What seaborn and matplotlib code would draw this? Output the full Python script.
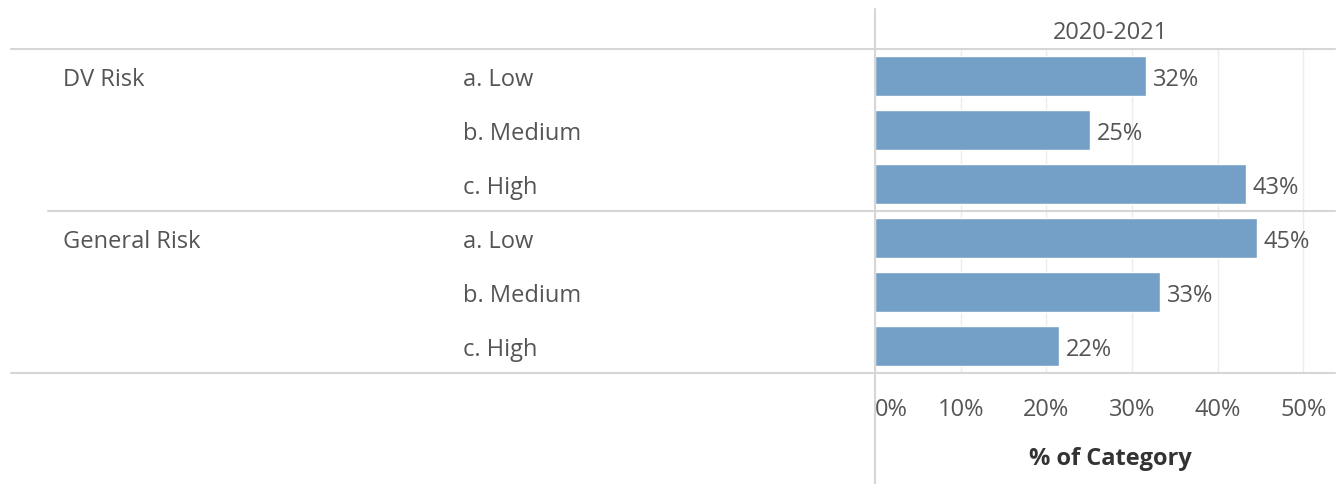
import matplotlib
matplotlib.use('Agg')
import matplotlib.pyplot as plt
import matplotlib.transforms as mtransforms
from matplotlib.lines import Line2D
import seaborn as sns
import pandas as pd

# values
groups = ['DV Risk', 'General Risk']
levels = ['a. Low', 'b. Medium', 'c. High']
dv_pct = [31.6, 25.1, 43.3]
general_pct = [44.6, 33.3, 21.5]
x_ticks = [0, 10, 20, 30, 40, 50]
x_tick_labels = ['0%', '10%', '20%', '30%', '40%', '50%']
period = '2020-2021'
x_title = '% of Category'

df = pd.DataFrame({
    'group': [g for g in groups for _ in levels],
    'level': levels * 2,
    'pct': dv_pct + general_pct,
})
df['row'] = df['group'] + ' | ' + df['level']

sns.set_theme(style='white')
plt.rcParams['font.family'] = ['Open Sans', 'DejaVu Sans']
text_color = '#555555'
line_color = '#d6d6d6'
bar_color = '#74a0c7'
fs = 17

W, H = 1342, 485
fig = plt.figure(figsize=(W / 100, H / 100), dpi=100)
ax = fig.add_axes([875 / W, 1 - 374 / H, (1335 - 875) / W, (374 - 50) / H])

sns.barplot(data=df, y='row', x='pct', orient='h', color=bar_color,
            saturation=1, width=0.73, ax=ax)
ax.set_xlim(0, 53.7)
ax.set_ylim(5.5, -0.5)
sns.despine(ax=ax, left=True, bottom=True)
ax.set_ylabel('')
ax.set_xlabel('')
ax.set_yticks([])
ax.set_xticks(x_ticks)
ax.set_xticklabels(x_tick_labels, fontsize=fs, color=text_color)
ax.get_xticklabels()[0].set_horizontalalignment('left')
ax.tick_params(axis='x', length=0, pad=17)
ax.grid(axis='x', color='#ececec', lw=1)
ax.set_axisbelow(True)

# row text sits a few pixels below the bar centre, as in the original
dy = 0.06

# value labels
for i, v in enumerate(df['pct']):
    ax.text(v + 0.8, i + dy, f'{round(v)}%', va='center', ha='left',
            fontsize=fs, color=text_color)

# row header labels
trans = mtransforms.blended_transform_factory(fig.transFigure, ax.transData)
for i, row in df.iterrows():
    if row['level'] == levels[0]:
        fig.text(63 / W, i + dy, row['group'], transform=trans, va='center',
                 ha='left', fontsize=fs, color=text_color)
    fig.text(463 / W, i + dy, row['level'], transform=trans, va='center',
             ha='left', fontsize=fs, color=text_color)

# header and axis title
fig.text(1110 / W, 1 - 33 / H, period, ha='center', va='center',
         fontsize=fs, color=text_color)
fig.text(1110 / W, 1 - 459 / H, x_title, ha='center', va='center',
         fontsize=fs, fontweight='bold', color='#333333')

# table lines
for y, x0 in [(50, 11), (212, 48), (374, 11)]:
    fig.add_artist(Line2D([x0 / W, 1335 / W], [1 - y / H] * 2,
                          transform=fig.transFigure, color=line_color, lw=1.5))
fig.add_artist(Line2D([875 / W, 875 / W], [1 - 10 / H, 0],
                      transform=fig.transFigure, color=line_color, lw=1.5))

fig.savefig('out.png', dpi=100)
